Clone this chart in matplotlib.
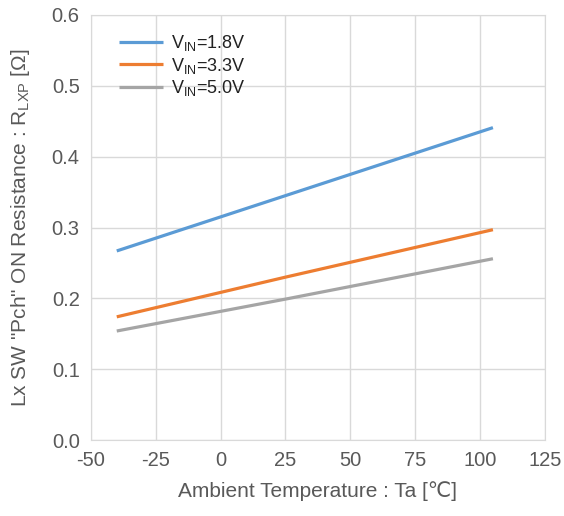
"""Lx SW Pch ON resistance vs ambient temperature."""
from matplotlib import pyplot as plt

plt.rcParams['font.family'] = ['Liberation Sans', 'DejaVu Sans']
plt.rcParams['axes.unicode_minus'] = False

temp = [-40, 25, 105]
r_18 = [0.267, 0.345, 0.441]
r_33 = [0.174, 0.230, 0.297]
r_50 = [0.154, 0.199, 0.256]
labels = [r"V$_{\mathregular{IN}}$=1.8V", r"V$_{\mathregular{IN}}$=3.3V",
          r"V$_{\mathregular{IN}}$=5.0V"]
colors = ["#5b9bd5", "#ed7d31", "#a5a5a5"]
xticks = [-50, -25, 0, 25, 50, 75, 100, 125]
yticks = [0.0, 0.1, 0.2, 0.3, 0.4, 0.5, 0.6]

text_col = "#595959"
fig = plt.figure(figsize=(5.64, 5.16), dpi=100)
ax = fig.add_axes([0.161, 0.147, 0.805, 0.824])

for ys, lab, c in zip([r_18, r_33, r_50], labels, colors):
    ax.plot(temp, ys, color=c, lw=2.3, label=lab, solid_capstyle="butt")

ax.set_xlim(-50, 125)
ax.set_ylim(0, 0.6)
ax.set_xticks(xticks)
ax.set_yticks(yticks)
ax.set_yticklabels([f"{v:.1f}" for v in yticks])
ax.grid(True, color="#d9d9d9", lw=1)
ax.set_axisbelow(True)
for s in ax.spines.values():
    s.set_color("#d9d9d9")
ax.tick_params(length=0, labelsize=14.5, colors=text_col, pad=8)

ax.set_xlabel("Ambient Temperature : Ta [\u2103]", fontsize=15, color=text_col,
              labelpad=8)
ax.set_ylabel('Lx SW "Pch" ON Resistance : R$_{\\mathregular{LXP}}$ [$\\mathregular{\\Omega}$]',
              fontsize=15, color=text_col, labelpad=14)

leg = ax.legend(loc="upper left", frameon=False, fontsize=13, handlelength=2.4,
                handletextpad=0.45, labelspacing=0.14,
                bbox_to_anchor=(0.035, 0.987), borderaxespad=0.3)
for t in leg.get_texts():
    t.set_color("#222222")

fig.savefig("out.png", dpi=100)
